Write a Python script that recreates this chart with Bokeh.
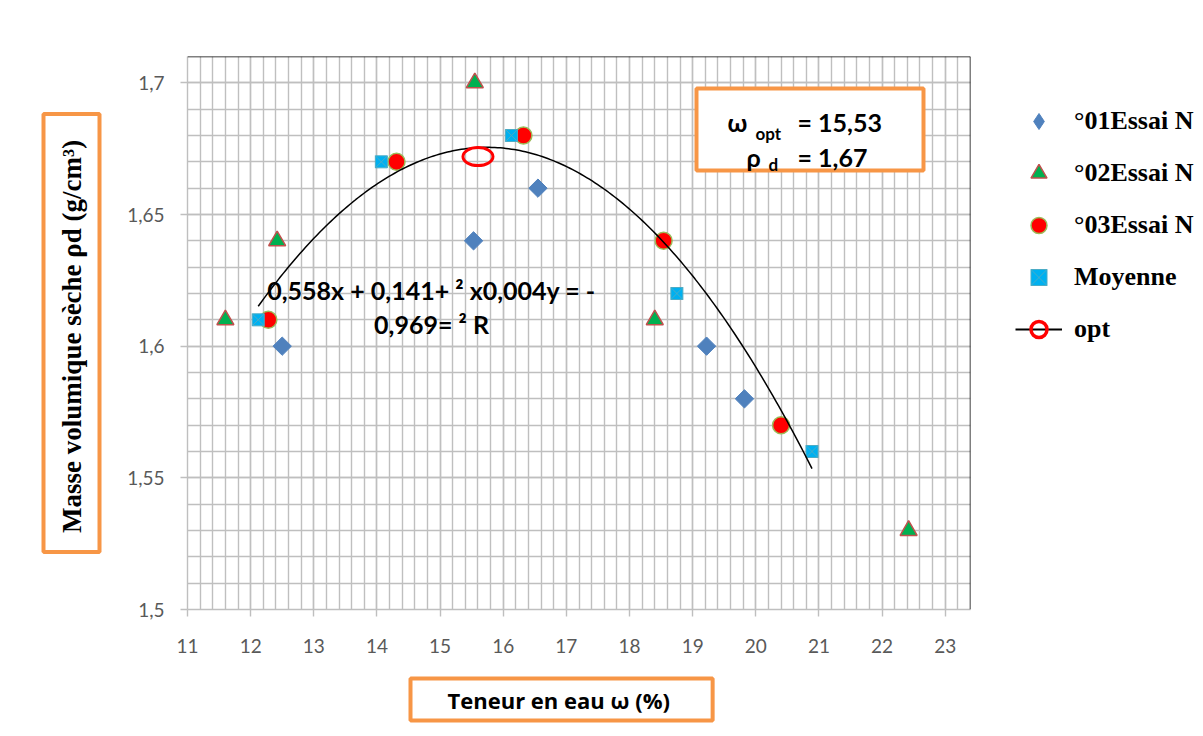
import numpy as np
from bokeh.plotting import figure
from bokeh.models import (Range1d, SingleIntervalTicker, Label, BoxAnnotation, Legend,
                          LegendItem, Span, CustomJSTickFormatter, Title)
from bokeh.embed import file_html
from bokeh.resources import INLINE

# ---------------- data ----------------
essai1_w = [12.5, 15.53, 16.55, 19.22, 19.82]
essai1_rho = [1.60, 1.64, 1.66, 1.60, 1.58]
essai2_w = [11.6, 12.42, 15.55, 18.4, 22.42]
essai2_rho = [1.61, 1.64, 1.70, 1.61, 1.53]
essai3_w = [12.28, 14.31, 16.32, 18.54, 20.4]
essai3_rho = [1.61, 1.67, 1.68, 1.64, 1.57]
moy_w = [12.12, 14.07, 16.13, 18.75, 20.89]
moy_rho = [1.61, 1.67, 1.68, 1.62, 1.56]
opt_w = [15.6]
opt_rho = [1.672]

legend_labels = ["°01Essai N", "°02Essai N", "°03Essai N", "Moyenne", "opt"]
x_title = "Teneur en eau  ω (%)"
y_title = "Masse volumique sèche  ρd (g/cm³)"
eq_line1 = "0,558x + 0,141+ ² x0,004y = -"
eq_line2 = "0,969= ² R"

# ---------------- layout (canvas pixels) ----------------
FL, FR, FT, FB = 187, 970, 56, 609   # frame edges


def sx(px):
    return px - FL


def sy(py):
    return FB - py


p = figure(frame_width=FR - FL, frame_height=FB - FT, output_backend="svg",
           toolbar_location=None,
           x_range=Range1d(11, 23.4), y_range=Range1d(1.5, 1.71),
           min_border_left=FL, min_border_right=233, min_border_top=FT,
           min_border_bottom=127)
p.outline_line_color = None
p.background_fill_color = "white"
p.border_fill_color = "white"

GRID = "#BFBFBF"
p.xaxis.ticker = SingleIntervalTicker(interval=1, num_minor_ticks=5)
p.yaxis.ticker = SingleIntervalTicker(interval=0.05, num_minor_ticks=5)
for g in (p.xgrid, p.ygrid):
    g.grid_line_color = GRID
    g.grid_line_width = 1.4
    g.minor_grid_line_color = GRID
    g.minor_grid_line_width = 1.4

fmt = CustomJSTickFormatter(code="return Number(tick.toFixed(2)).toString().replace('.', ',');")
for ax in (p.xaxis[0], p.yaxis[0]):
    ax.formatter = fmt
    ax.axis_line_color = GRID
    ax.axis_line_width = 1.4
    ax.major_tick_line_color = GRID
    ax.major_tick_line_width = 1.4
    ax.major_tick_out = 7
    ax.major_tick_in = 0
    ax.minor_tick_line_color = None
    ax.major_label_text_font = "Lato"
    ax.major_label_text_font_size = "19px"
    ax.major_label_text_color = "#595959"
p.xaxis.major_label_standoff = 22
p.yaxis.major_label_standoff = 16

# top / right border of plot area
p.add_layout(Span(location=1.71, dimension="width", line_color="black", line_width=1.5))
p.add_layout(Span(location=23.4, dimension="height", line_color="black", line_width=1.5))

# ---------------- series ----------------
r1 = p.scatter(essai1_w, essai1_rho, marker="square", angle=np.pi / 4, size=13,
               fill_color="#4F81BD", line_color="#4F81BD")
r1_leg = p.scatter(essai1_w, essai1_rho, marker="diamond", size=0,
                   fill_color="#4F81BD", line_color="#4F81BD")
r2 = p.scatter(essai2_w, essai2_rho, marker="triangle", size=17,
               fill_color="#00B050", line_color="#C0504D", line_width=1.5)
r3 = p.scatter(essai3_w, essai3_rho, marker="circle", size=17,
               fill_color="#FF0000", line_color="#9BBB59", line_width=1.5)
r4 = p.scatter(moy_w, moy_rho, marker="square_x", size=12,
               fill_color="#00B0F0", line_color="#4BACC6", line_width=1)

coef = np.polyfit(moy_w, moy_rho, 2)
xs = np.linspace(min(moy_w), max(moy_w), 200)
p.line(xs, np.polyval(coef, xs), line_color="black", line_width=1.5)

p.ellipse(opt_w, opt_rho, width=30, height=18, width_units="screen", height_units="screen",
          fill_color=None, line_color="#FF0000", line_width=3)
r_opt_line = p.line(opt_w, opt_rho, line_color="black", line_width=2)
r_opt_circ = p.scatter(opt_w, opt_rho, marker="circle", size=0, fill_color=None,
                       line_color="#FF0000", line_width=3.5)

# ---------------- optimum box and texts inside the plot area ----------------
ORANGE = "#F79646"
p.add_layout(BoxAnnotation(left=sx(696), right=sx(923), top=sy(88), bottom=sy(170),
                           left_units="screen", right_units="screen",
                           top_units="screen", bottom_units="screen",
                           fill_color="white", fill_alpha=1.0,
                           line_color=ORANGE, line_alpha=1.0, line_width=4))


def label(text, px, py, size, font="Lato", style="bold", align="left",
          baseline="alphabetic", color="black"):
    p.add_layout(Label(x=sx(px), y=sy(py), x_units="screen", y_units="screen",
                       text=text, text_font=font, text_font_size=f"{size}px",
                       text_font_style=style, text_align=align,
                       text_baseline=baseline, text_color=color))


label("ω", 727, 121, 25)
label("opt", 755, 133, 17)
label("= 15,53", 797, 121, 25)
label("ρ", 746, 156, 25)
label("d", 768, 164, 17)
label("= 1,67", 797, 156, 25)

label(eq_line1, 431, 289, 25, align="center")
label(eq_line2, 431, 323, 25, align="center")

# ---------------- axis titles (boxed) ----------------
SER = "Liberation Serif"
yt = Title(text=y_title, align="center", text_font=SER, text_font_size="27px",
           text_font_style="bold", text_color="black",
           background_fill_color="white", border_line_color=ORANGE,
           border_line_width=4, padding=(19, 13), standoff=50)
p.add_layout(yt, "left")

xt = Title(text=x_title, align="left", offset=410 - FL, text_font="Open Sans",
           text_font_size="22px", text_font_style="bold", text_color="black",
           background_fill_color="white", border_line_color=ORANGE,
           border_line_width=4, padding=(37, 6), standoff=42)
p.add_layout(xt, "below")

# ---------------- legend ----------------
GH = 40
leg = Legend(items=[LegendItem(label=legend_labels[0], renderers=[r1_leg]),
                    LegendItem(label=legend_labels[1], renderers=[r2]),
                    LegendItem(label=legend_labels[2], renderers=[r3]),
                    LegendItem(label=legend_labels[3], renderers=[r4]),
                    LegendItem(label=legend_labels[4], renderers=[r_opt_line, r_opt_circ])],
             location="top_left",
             glyph_width=47, glyph_height=GH, label_height=GH,
             label_standoff=12, padding=0, margin=45, spacing=12,
             border_line_color=None, background_fill_alpha=0,
             label_text_font=SER, label_text_font_size="26px",
             label_text_font_style="bold", label_text_color="black",
             label_text_baseline="middle")
p.add_layout(leg, "right")

open("out.html", "w").write(file_html(p, INLINE))
